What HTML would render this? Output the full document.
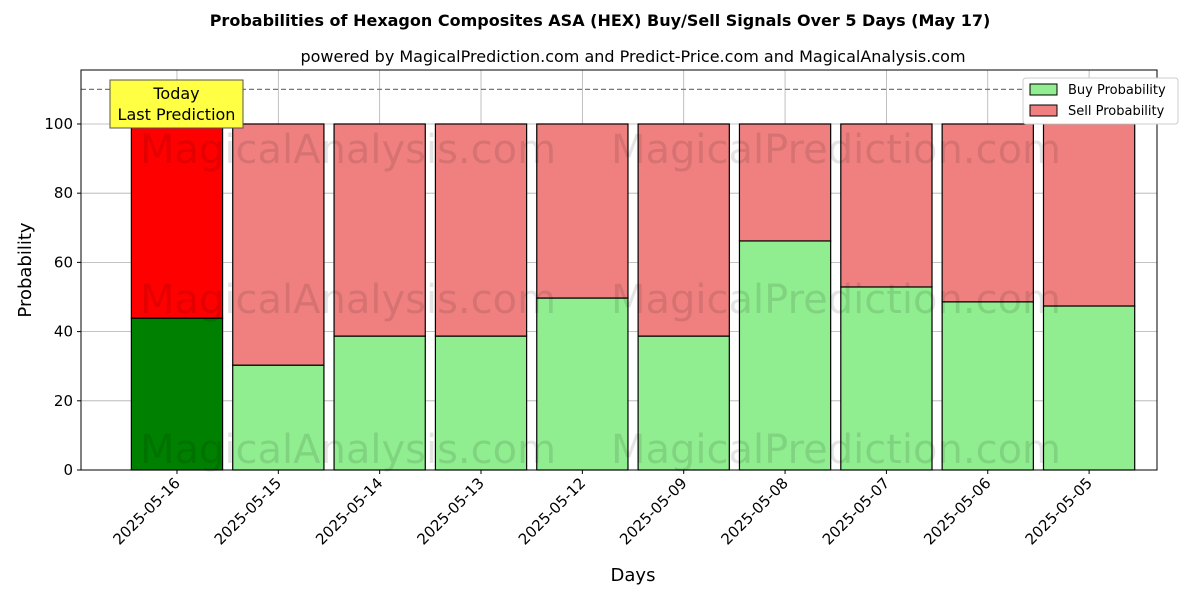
<!DOCTYPE html>
<html><head><meta charset="utf-8"><style>
body{margin:0;background:#fff;font-family:"Liberation Sans","DejaVu Sans",sans-serif;}
</style></head><body>
<svg id="chart" width="1200" height="600" xmlns="http://www.w3.org/2000/svg" font-family="DejaVu Sans, Liberation Sans, sans-serif">
<rect width="1200" height="600" fill="#fff"/>
<text x="600" y="26" text-anchor="middle" font-size="16" font-weight="bold">Probabilities of Hexagon Composites ASA (HEX) Buy/Sell Signals Over 5 Days (May 17)</text>
<text x="633" y="62" text-anchor="middle" font-size="16">powered by MagicalPrediction.com and Predict-Price.com and MagicalAnalysis.com</text>
<g id="grid"></g>
<g id="bars"></g>
<g id="wm" font-size="40" fill="#000" opacity="0.1">
<text x="348" y="163" text-anchor="middle">MagicalAnalysis.com</text>
<text x="836" y="163" text-anchor="middle">MagicalPrediction.com</text>
<text x="348" y="313" text-anchor="middle">MagicalAnalysis.com</text>
<text x="836" y="313" text-anchor="middle">MagicalPrediction.com</text>
<text x="348" y="463" text-anchor="middle">MagicalAnalysis.com</text>
<text x="836" y="463" text-anchor="middle">MagicalPrediction.com</text>
</g>
<line x1="81" x2="1157" y1="89.4" y2="89.4" stroke="#777" stroke-dasharray="5,3" stroke-width="1.2"/>
<rect x="81" y="70" width="1076" height="400" fill="none" stroke="#000" stroke-width="1"/>
<g id="axes"></g>
<g>
<rect x="110" y="80" width="133" height="48" fill="#ffff44" stroke="#555"/>
<text x="176.5" y="99" text-anchor="middle" font-size="16">Today</text>
<text x="176.5" y="120" text-anchor="middle" font-size="16">Last Prediction</text>
</g>
<g>
<rect x="1023" y="78" width="155" height="46" fill="#fff" stroke="#ccc" rx="3"/>
<rect x="1030" y="84" width="27" height="11" fill="#90ee90" stroke="#000"/>
<text x="1068" y="94" font-size="13">Buy Probability</text>
<rect x="1030" y="105" width="27" height="11" fill="#f08080" stroke="#000"/>
<text x="1068" y="115" font-size="13">Sell Probability</text>
</g>
<text x="633" y="581" text-anchor="middle" font-size="18">Days</text>
<text transform="translate(31,270) rotate(-90)" text-anchor="middle" font-size="18">Probability</text>
</svg>
<script>
const categories=["2025-05-16","2025-05-15","2025-05-14","2025-05-13","2025-05-12","2025-05-09","2025-05-08","2025-05-07","2025-05-06","2025-05-05"];
const buyValues=[43.9,30.3,38.7,38.7,49.7,38.7,66.2,52.9,48.6,47.4];
const sellValues=[56.1,69.7,61.3,61.3,50.3,61.3,33.8,47.1,51.4,52.6];
const yTicks=[0,20,40,60,80,100];
const NS="http://www.w3.org/2000/svg";
const X0=81,X1=1157,Y0=470,Y1=70,xmin=-0.947,xmax=9.67,ymin=0,ymax=115.6;
const xs=i=>X0+(i-xmin)/(xmax-xmin)*(X1-X0);
const ys=v=>Y0-(v-ymin)/(ymax-ymin)*(Y0-Y1);
const bw=0.9*(X1-X0)/(xmax-xmin);
function mk(t,a,p){const e=document.createElementNS(NS,t);for(const k in a)e.setAttribute(k,a[k]);p.appendChild(e);return e;}
const grid=document.getElementById('grid'),bars=document.getElementById('bars'),axes=document.getElementById('axes');
yTicks.forEach(v=>{
 const g=mk('line',{x1:X0,x2:X1,y1:ys(v),y2:ys(v),stroke:'#b0b0b0','stroke-width':0.8},grid);
 
 
 const t=mk('line',{x1:X0-4,x2:X0,y1:ys(v),y2:ys(v),stroke:'#000'},axes);
 
 
 const l=mk('text',{x:X0-8,y:ys(v)+5,'text-anchor':'end','font-size':15},axes);
 l.textContent=v;
 
 
});
categories.forEach((c,i)=>{
 const cx=xs(i);
 const g=mk('line',{x1:cx,x2:cx,y1:Y1,y2:Y0,stroke:'#b0b0b0','stroke-width':0.8},grid);
 
 
 const b=mk('rect',{x:cx-bw/2,y:ys(buyValues[i]),width:bw,height:ys(0)-ys(buyValues[i]),fill:i==0?'#008000':'#90ee90',stroke:'#000','stroke-width':1.2},bars);
 
 
 const s=mk('rect',{x:cx-bw/2,y:ys(buyValues[i]+sellValues[i]),width:bw,height:ys(buyValues[i])-ys(buyValues[i]+sellValues[i]),fill:i==0?'#ff0000':'#f08080',stroke:'#000','stroke-width':1.2},bars);
 
 
 const t=mk('line',{x1:cx,x2:cx,y1:Y0,y2:Y0+4,stroke:'#000'},axes);
 
 
 const l=mk('text',{x:cx+4,y:Y0+14,'text-anchor':'end','font-size':15,transform:`rotate(-45 ${cx+4} ${Y0+14})`},axes);
 l.textContent=c;
 
 
});
</script>
</body></html>
